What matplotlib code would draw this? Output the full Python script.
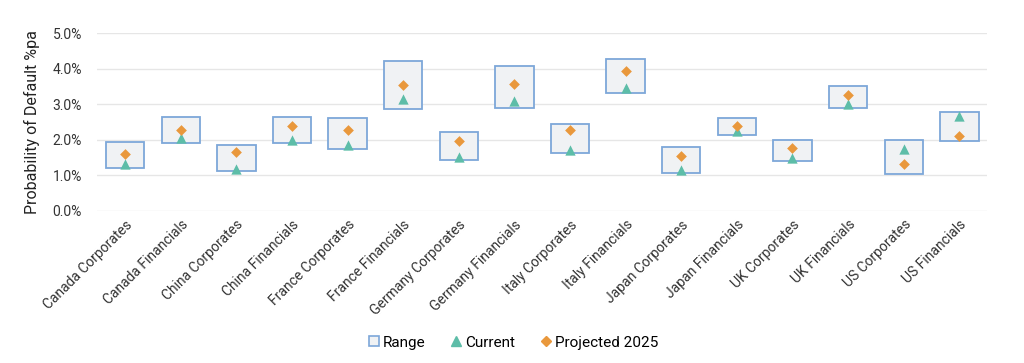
import matplotlib.pyplot as plt
from matplotlib.lines import Line2D
from matplotlib.ticker import PercentFormatter

plt.rcParams['font.family'] = ['Roboto', 'DejaVu Sans']

# data (% pa)
categories = ["Canada Corporates", "Canada Financials", "China Corporates", "China Financials",
              "France Corporates", "France Financials", "Germany Corporates", "Germany Financials",
              "Italy Corporates", "Italy Financials", "Japan Corporates", "Japan Financials",
              "UK Corporates", "UK Financials", "US Corporates", "US Financials"]
range_low = [1.19, 1.89, 1.11, 1.89, 1.73, 2.87, 1.42, 2.88, 1.63, 3.31, 1.05, 2.14, 1.39, 2.88, 1.02, 1.97]
range_high = [1.94, 2.64, 1.86, 2.64, 2.60, 4.21, 2.21, 4.07, 2.44, 4.26, 1.78, 2.60, 1.98, 3.50, 1.99, 2.77]
current = [1.30, 2.03, 1.16, 2.00, 1.86, 3.13, 1.51, 3.09, 1.70, 3.45, 1.13, 2.24, 1.48, 3.01, 1.74, 2.67]
projected = [1.58, 2.28, 1.66, 2.38, 2.27, 3.53, 1.96, 3.56, 2.27, 3.94, 1.54, 2.39, 1.77, 3.25, 1.32, 2.11]

box_edge = "#7DA7D9"
box_fill = "#F0F2F4"
teal = "#5DBDA8"
orange = "#E9983C"

fig = plt.figure(figsize=(10.24, 3.63), dpi=100)
ax = fig.add_axes([0.095, 0.42, 0.869, 0.489])

x = list(range(len(categories)))
heights = [h - l for h, l in zip(range_high, range_low)]
ax.bar(x, heights, bottom=range_low, width=0.69, color=box_fill,
       edgecolor=box_edge, linewidth=1.3, zorder=2)
ax.scatter(x, current, marker="^", s=55, color=teal, zorder=3, linewidths=0)
ax.scatter(x, projected, marker="D", s=30, color=orange, zorder=4, linewidths=0)

ax.set_xlim(-0.5, len(categories) - 0.5)
ax.set_ylim(0, 5)
ax.set_yticks([0, 1, 2, 3, 4, 5])
ax.yaxis.set_major_formatter(PercentFormatter(decimals=1))
ax.grid(axis="y", color="#E6E6E6", linewidth=1, zorder=0)
ax.set_axisbelow(True)
for s in ax.spines.values():
    s.set_visible(False)
ax.tick_params(length=0, labelsize=10, colors="#333333")
ax.tick_params(axis="y", pad=11)
ax.tick_params(axis="x", pad=5)
ax.set_xticks(x)
ax.set_xticklabels(categories, rotation=45, ha="right", rotation_mode="anchor")
ax.set_ylabel("Probability of Default %pa", fontsize=11.5, color="#222222", labelpad=9)

handles = [
    Line2D([], [], marker="s", linestyle="", markersize=7, markerfacecolor=box_fill,
           markeredgecolor=box_edge, markeredgewidth=1.2, label="Range"),
    Line2D([], [], marker="^", linestyle="", markersize=7, color=teal, label="Current"),
    Line2D([], [], marker="D", linestyle="", markersize=5, color=orange, label="Projected 2025"),
]
fig.legend(handles=handles, loc="center", bbox_to_anchor=(0.5, 0.056), ncol=3, frameon=False,
           fontsize=11, handletextpad=0.1, columnspacing=1.5, handlelength=1.0)

fig.savefig("out.png", dpi=100)
